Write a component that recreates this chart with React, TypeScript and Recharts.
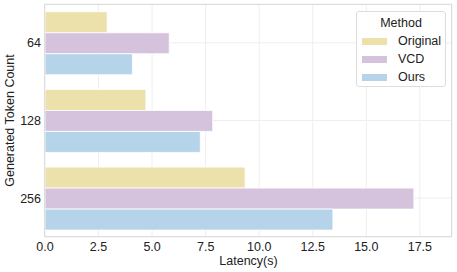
import { BarChart, Bar, XAxis, YAxis, CartesianGrid } from "recharts";

const categories = ["64", "128", "256"];
const originalLatency = [2.9, 4.71, 9.34];
const vcdLatency = [5.8, 7.83, 17.22];
const oursLatency = [4.08, 7.25, 13.44];
const xTicks = [0, 2.5, 5, 7.5, 10, 12.5, 15, 17.5];

const SERIES = [
  { key: "original", name: "Original", color: "#ECE0AB" },
  { key: "vcd", name: "VCD", color: "#D5C3DD" },
  { key: "ours", name: "Ours", color: "#B5D4E9" },
];

const data = categories.map((c, i) => ({
  tokens: c,
  original: originalLatency[i],
  vcd: vcdLatency[i],
  ours: oursLatency[i],
}));

const FONT = "'Liberation Sans', Arial, sans-serif";
const TEXT = "#222222";

export default function App() {
  return (
    <div
      style={{
        position: "fixed",
        left: 0,
        top: 0,
        width: 457,
        height: 272,
        background: "#fff",
        fontFamily: FONT,
      }}
    >
      <BarChart
        width={457}
        height={272}
        data={data}
        layout="vertical"
        margin={{ top: 4, right: 5, left: 0, bottom: 0 }}
        barCategoryGap="10%"
        barGap={0}
      >
        <CartesianGrid stroke="#EEEEEE" strokeWidth={1} />
        <XAxis
          type="number"
          domain={[0, 19]}
          ticks={xTicks}
          allowDataOverflow
          tickFormatter={(v: number) => v.toFixed(1)}
          tick={{ fill: TEXT, fontSize: 12.5, fontFamily: FONT }}
          tickLine={false}
          tickSize={3}
          tickMargin={2}
          axisLine={false}
          height={35}
          label={{
            value: "Latency(s)",
            position: "insideBottom",
            offset: 7,
            fill: TEXT,
            fontSize: 12.5,
            fontFamily: FONT,
          }}
        />
        <YAxis
          type="category"
          dataKey="tokens"
          width={45}
          tick={{ fill: TEXT, fontSize: 12.5, fontFamily: FONT }}
          tickLine={false}
          tickSize={2}
          tickMargin={2}
          axisLine={false}
          label={({ viewBox }: any) => {
            const cy = viewBox.y + viewBox.height / 2;
            return (
              <text
                x={14}
                y={cy}
                transform={`rotate(-90, 14, ${cy})`}
                textAnchor="middle"
                fill={TEXT}
                fontSize={12.5}
                fontFamily={FONT}
              >
                Generated Token Count
              </text>
            );
          }}
        />
        {SERIES.map((s) => (
          <Bar
            key={s.key}
            dataKey={s.key}
            name={s.name}
            fill={s.color}
            stroke="#ffffff"
            strokeWidth={0.8}
            isAnimationActive={false}
          />
        ))}
      </BarChart>
      {/* plot border */}
      <div
        style={{
          position: "absolute",
          left: 44,
          top: 4,
          width: 408,
          height: 233,
          border: "1px solid #DDDDDD",
          boxSizing: "border-box",
          pointerEvents: "none",
        }}
      />
      {/* legend */}
      <div
        style={{
          position: "absolute",
          left: 356,
          top: 11,
          width: 90,
          height: 76,
          boxSizing: "border-box",
          border: "1px solid #DDDDDD",
          borderRadius: 3,
          background: "rgba(255,255,255,0.85)",
          color: TEXT,
          fontSize: 12.5,
          lineHeight: "14px",
        }}
      >
        <div style={{ textAlign: "center", marginTop: 4, height: 16 }}>Method</div>
        {SERIES.map((s) => (
          <div
            key={s.key}
            style={{ display: "flex", alignItems: "center", height: 18 }}
          >
            <span
              style={{
                display: "inline-block",
                width: 25,
                height: 7,
                marginLeft: 5,
                background: s.color,
              }}
            />
            <span style={{ marginLeft: 11 }}>{s.name}</span>
          </div>
        ))}
      </div>
    </div>
  );
}
